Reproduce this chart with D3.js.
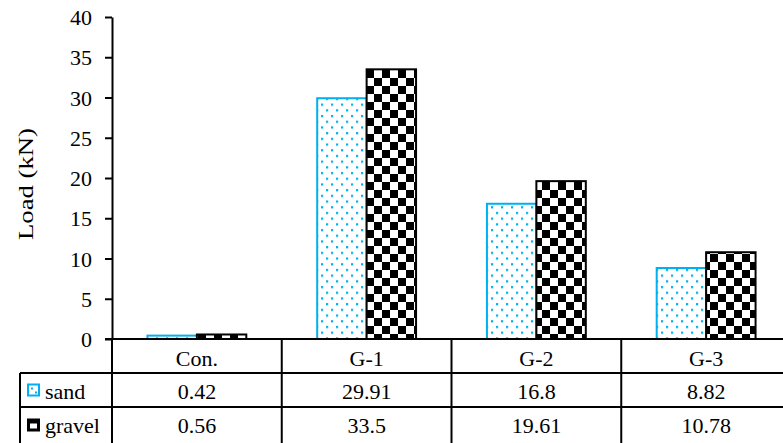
<!DOCTYPE html>
<html><head><meta charset="utf-8">
<script src="https://cdn.jsdelivr.net/npm/d3@7"></script>
<style>body{margin:0;background:#fff}svg{display:block}</style>
</head><body><svg id="c" width="783" height="443"></svg>
<script>
const categories = ["Con.", "G-1", "G-2", "G-3"];
const seriesNames = ["sand", "gravel"];
const sand = [0.42, 29.91, 16.8, 8.82];
const gravel = [0.56, 33.5, 19.61, 10.78];
const sandLabels = ["0.42", "29.91", "16.8", "8.82"];
const gravelLabels = ["0.56", "33.5", "19.61", "10.78"];
const yTicks = [0, 5, 10, 15, 20, 25, 30, 35, 40];

const svg = d3.select("#c");
const W = 783, H = 443;
const m = {left: 112, right: 791, top: 17, bottom: 339};
const cyan = "#00b0f0";
const FF = "Liberation Serif, Tinos, Times New Roman, DejaVu Serif, serif";
const FS = "22px";
const styleText = sel => sel.style("font-family", FF).style("font-size", FS).style("fill", "#000");

const defs = svg.append("defs");
const pd = defs.append("pattern").attr("id", "dots").attr("patternUnits", "userSpaceOnUse")
  .attr("width", 10).attr("height", 11.4);
pd.append("rect").attr("width", 10).attr("height", 11.4).attr("fill", "#fff");
pd.append("rect").attr("x", 1).attr("y", 1).attr("width", 2.2).attr("height", 2.2).attr("fill", cyan);
pd.append("rect").attr("x", 6).attr("y", 6.7).attr("width", 2.2).attr("height", 2.2).attr("fill", cyan);
const pc = defs.append("pattern").attr("id", "checker").attr("patternUnits", "userSpaceOnUse")
  .attr("width", 16).attr("height", 16).attr("x", 14).attr("y", 6);
pc.append("rect").attr("width", 16).attr("height", 16).attr("fill", "#fff");
pc.append("rect").attr("width", 8).attr("height", 8).attr("fill", "#000");
pc.append("rect").attr("x", 8).attr("y", 8).attr("width", 8).attr("height", 8).attr("fill", "#000");

const x = d3.scaleBand().domain(categories).range([m.left, m.right]).paddingInner(0).paddingOuter(0);
const xs = d3.scaleBand().domain(seriesNames).range([0, x.bandwidth()]).paddingInner(0).paddingOuter(0.717);
const y = d3.scaleLinear().domain([0, 40]).range([m.bottom, m.top]);

// bars
const data = [sand, gravel];
const fills = ["url(#dots)", "url(#checker)"];
const strokes = [cyan, "#000"];
seriesNames.forEach((s, si) => {
  svg.append("g").selectAll("rect").data(categories).join("rect")
    .attr("x", d => x(d) + xs(s))
    .attr("y", (d, i) => y(data[si][i]))
    .attr("width", xs.bandwidth())
    .attr("height", (d, i) => y(0) - y(data[si][i]))
    .attr("fill", fills[si]).attr("stroke", strokes[si]).attr("stroke-width", 2);
});

// y axis
const ya = svg.append("g").attr("transform", `translate(${m.left},0)`)
  .call(d3.axisLeft(y).tickValues(yTicks).tickSize(7).tickSizeOuter(0).tickPadding(13));
ya.select(".domain").attr("stroke", "#000").attr("stroke-width", 2);
ya.selectAll(".tick line").attr("stroke", "#000").attr("stroke-width", 2);
ya.selectAll(".tick text").attr("dy", "0.35em").call(styleText);

svg.append("text").attr("transform", `translate(33,184) rotate(-90)`)
  .attr("text-anchor", "middle").call(styleText).style("font-size", "22px")
  .attr("textLength", 112).attr("lengthAdjust", "spacingAndGlyphs").text("Load (kN)");

// table
const rowsY = [339, 373, 407, 443];
const textY = [366, 399, 433];
const tableLeft = 20;
const g = svg.append("g").attr("stroke", "#000").attr("stroke-width", 2);
g.append("line").attr("x1", m.left - 7).attr("x2", W).attr("y1", rowsY[0]).attr("y2", rowsY[0]);
g.append("line").attr("x1", tableLeft).attr("x2", W).attr("y1", rowsY[1]).attr("y2", rowsY[1]);
g.append("line").attr("x1", tableLeft).attr("x2", W).attr("y1", rowsY[2]).attr("y2", rowsY[2]);
g.append("line").attr("x1", tableLeft).attr("x2", tableLeft).attr("y1", rowsY[1]).attr("y2", H);
const vx = categories.map(c => x(c));
g.selectAll(".v").data(vx).join("line").attr("x1", d => d).attr("x2", d => d)
  .attr("y1", rowsY[0]).attr("y2", H);

const cellText = (txt, cx, r) => svg.append("text").attr("x", cx).attr("y", textY[r])
  .attr("text-anchor", "middle").call(styleText).text(txt);
categories.forEach((c, i) => {
  const cx = x(c) + x.bandwidth() / 2;
  cellText(c, cx, 0);
  cellText(sandLabels[i], cx, 1);
  cellText(gravelLabels[i], cx, 2);
});
// legend keys
[1, 2].forEach((r, si) => {
  const cy = (rowsY[r] + rowsY[r + 1]) / 2 + 0.5;
  svg.append("rect").attr("x", 28).attr("y", cy - 6).attr("width", 11).attr("height", 11)
    .attr("fill", si === 0 ? "#fff" : "#000").attr("stroke", strokes[si]).attr("stroke-width", 2);
  if (si === 0) {
    svg.append("rect").attr("x", 31).attr("y", cy - 3).attr("width", 2).attr("height", 2).attr("fill", cyan);
    svg.append("rect").attr("x", 35).attr("y", cy + 1).attr("width", 2).attr("height", 2).attr("fill", cyan);
  } else {
    svg.append("rect").attr("x", 30).attr("y", cy - 2).attr("width", 7).attr("height", 5).attr("fill", "#fff");
  }
  svg.append("text").attr("x", 45).attr("y", textY[r]).call(styleText).text(seriesNames[si]);
});
</script></body></html>
